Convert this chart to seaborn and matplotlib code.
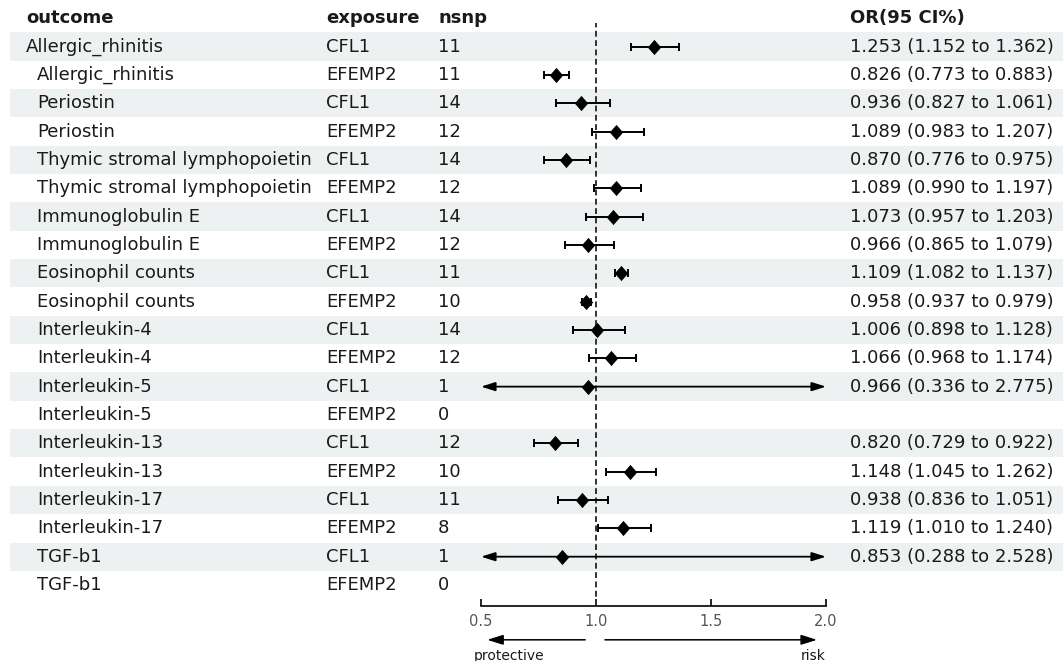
import numpy as np
import pandas as pd
import matplotlib
matplotlib.use("Agg")
import matplotlib.pyplot as plt
import matplotlib.transforms as mtransforms
from matplotlib.patches import Rectangle
import seaborn as sns

# -------------------------------
# data
# -------------------------------
outcomes = ["Allergic_rhinitis", "Allergic_rhinitis", "Periostin", "Periostin",
            "Thymic stromal lymphopoietin", "Thymic stromal lymphopoietin",
            "Immunoglobulin E", "Immunoglobulin E", "Eosinophil counts", "Eosinophil counts",
            "Interleukin-4", "Interleukin-4", "Interleukin-5", "Interleukin-5",
            "Interleukin-13", "Interleukin-13", "Interleukin-17", "Interleukin-17",
            "TGF-b1", "TGF-b1"]
exposures = ["CFL1", "EFEMP2"] * 10
nsnp = [11, 11, 14, 12, 14, 12, 14, 12, 11, 10, 14, 12, 1, 0, 12, 10, 11, 8, 1, 0]
or_vals = [1.253, 0.826, 0.936, 1.089, 0.870, 1.089, 1.073, 0.966, 1.109, 0.958,
           1.006, 1.066, 0.966, np.nan, 0.820, 1.148, 0.938, 1.119, 0.853, np.nan]
ci_low = [1.152, 0.773, 0.827, 0.983, 0.776, 0.990, 0.957, 0.865, 1.082, 0.937,
          0.898, 0.968, 0.336, np.nan, 0.729, 1.045, 0.836, 1.010, 0.288, np.nan]
ci_high = [1.362, 0.883, 1.061, 1.207, 0.975, 1.197, 1.203, 1.079, 1.137, 0.979,
           1.128, 1.174, 2.775, np.nan, 0.922, 1.262, 1.051, 1.240, 2.528, np.nan]
x_ticks = [0.5, 1.0, 1.5, 2.0]

df = pd.DataFrame({"outcome": outcomes, "exposure": exposures, "nsnp": nsnp,
                   "OR": or_vals, "lo": ci_low, "hi": ci_high})
df["row"] = np.arange(len(df))

XMIN, XMAX = 0.5, 2.0
W, H = 1063, 661

sns.set_theme(style="white")
plt.rcParams["font.family"] = ["DejaVu Sans"]
TXT = "#1a1a1a"

fig = plt.figure(figsize=(W / 100, H / 100), dpi=100)
fig.patch.set_facecolor("white")

# forest panel: x 481..826 px, y 23..606 px
ax = fig.add_axes([481 / W, 1 - 606 / H, 345 / W, 583 / H])
ax.patch.set_alpha(0)
ax.set_xlim(XMIN, XMAX)
ax.set_ylim(19.74, -0.83)

# row stripes
bt = mtransforms.blended_transform_factory(fig.transFigure, ax.transData)
for r in df["row"]:
    if r % 2 == 0:
        ax.add_patch(Rectangle((10 / W, r - 0.5), 1 - 10 / W, 1, transform=bt,
                               facecolor="#eef1f1", edgecolor="none", zorder=0, clip_on=False))

# reference line
ax.axvline(1.0, color="#333333", lw=1.4, ls=(0, (3, 1.8)), zorder=1)

# confidence intervals
ok = df.dropna()
inside = ok[(ok["lo"] >= XMIN) & (ok["hi"] <= XMAX)]
ax.errorbar(inside["OR"], inside["row"],
            xerr=[inside["OR"] - inside["lo"], inside["hi"] - inside["OR"]],
            fmt="none", ecolor="black", elinewidth=1.4, capsize=3, capthick=1.4,
            zorder=2, clip_on=False)
outside = ok[(ok["lo"] < XMIN) | (ok["hi"] > XMAX)]
for _, rw in outside.iterrows():
    ax.annotate("", xy=(max(rw["lo"], XMIN), rw["row"]), xytext=(min(rw["hi"], XMAX), rw["row"]),
                arrowprops=dict(arrowstyle="<|-|>,head_length=0.7,head_width=0.22",
                                color="black", lw=1.3, shrinkA=0, shrinkB=0),
                annotation_clip=False, zorder=2)

# point estimates
diamond = [(-0.88, 0), (0, 1), (0.88, 0), (0, -1), (-0.88, 0)]
sns.scatterplot(data=ok, x="OR", y="row", marker=diamond, s=120, color="black",
                edgecolor="black", linewidth=0, zorder=3, ax=ax, legend=False, clip_on=False)
ax.set_ylim(19.74, -0.83)
ax.set_xlim(XMIN, XMAX)

# axis styling
for side in ["top", "left", "right"]:
    ax.spines[side].set_visible(False)
ax.spines["bottom"].set_color("black")
ax.spines["bottom"].set_linewidth(1.2)
ax.spines["bottom"].set_bounds(XMIN, XMAX)
ax.set_yticks([])
ax.set_xticks(x_ticks)
ax.set_xticklabels([f"{t:.1f}" for t in x_ticks])
ax.tick_params(axis="x", direction="in", length=5, width=1.2, color="black",
               labelsize=10.5, labelcolor="#555555", pad=6, bottom=True)
ax.set_xlabel("")
ax.set_ylabel("")

# protective / risk arrows under the axis
ta = mtransforms.blended_transform_factory(ax.transData, ax.transAxes)
arrow_kw = dict(arrowstyle="-|>,head_length=0.8,head_width=0.25", color="black",
                lw=1.1, shrinkA=0, shrinkB=0)
ax.annotate("", xy=(0.527, -0.058), xytext=(0.953, -0.058), xycoords=ta, textcoords=ta,
            arrowprops=arrow_kw, annotation_clip=False)
ax.annotate("", xy=(1.961, -0.058), xytext=(1.039, -0.058), xycoords=ta, textcoords=ta,
            arrowprops=arrow_kw, annotation_clip=False)
ax.text(0.47, -0.085, "protective", transform=ta, ha="left", va="center",
        fontsize=10, color=TXT, clip_on=False)
ax.text(2.0, -0.085, "risk", transform=ta, ha="right", va="center",
        fontsize=10, color=TXT, clip_on=False)

# table columns
col_x = {"outcome": 26 / W, "exposure": 326 / W, "nsnp": 438 / W, "or": 850 / W}
hdr = dict(transform=bt, va="center", ha="left", fontsize=13, fontweight="bold", color=TXT)
ax.text(col_x["outcome"], -1, "outcome", **hdr)
ax.text(col_x["exposure"], -1, "exposure", **hdr)
ax.text(col_x["nsnp"], -1, "nsnp", **hdr)
ax.text(col_x["or"], -1, "OR(95 CI%)", **hdr)

cell = dict(transform=bt, va="center", ha="left", fontsize=13, color=TXT)
for _, rw in df.iterrows():
    r = rw["row"]
    ox = col_x["outcome"] if r == 0 else 37 / W
    ax.text(ox, r, rw["outcome"], **cell)
    ax.text(col_x["exposure"], r, rw["exposure"], **cell)
    ax.text(col_x["nsnp"], r, str(rw["nsnp"]), **cell)
    if not np.isnan(rw["OR"]):
        ax.text(col_x["or"], r, f"{rw['OR']:.3f} ({rw['lo']:.3f} to {rw['hi']:.3f})", **cell)

fig.savefig("out.png", dpi=100, facecolor="white")
